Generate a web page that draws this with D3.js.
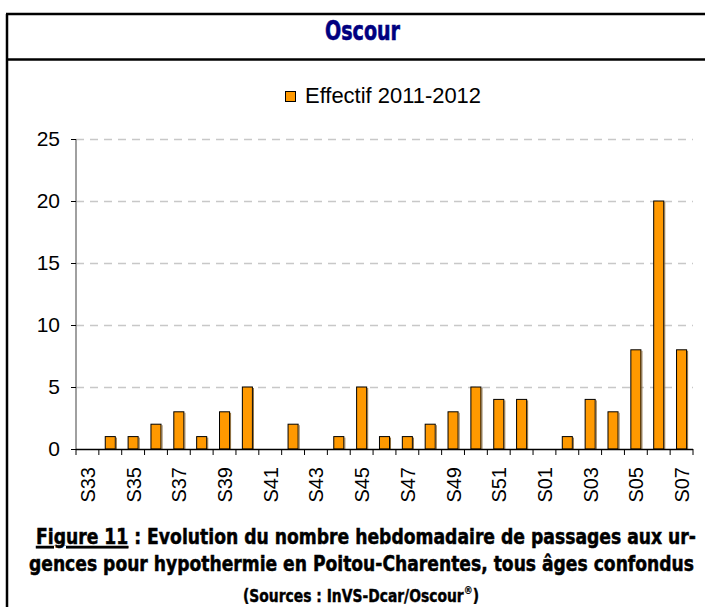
<!DOCTYPE html>
<html>
<head>
<meta charset="utf-8">
<script src="https://cdn.jsdelivr.net/npm/d3@7"></script>
<style>
  body { margin: 0; background: #fff; }
  .cond { font-family: "Liberation Sans Narrow", "DejaVu Sans Condensed", "DejaVu Sans", sans-serif; font-weight: bold; font-stretch: condensed; }
  .arial { font-family: "Liberation Sans", Arial, sans-serif; }
</style>
</head>
<body>
<div id="chart"></div>
<script>
// weeks S33 (2011) -> S07 (2012)
var weeks = ["S33","S34","S35","S36","S37","S38","S39","S40","S41","S42","S43","S44","S45","S46",
             "S47","S48","S49","S50","S51","S52","S01","S02","S03","S04","S05","S06","S07"];
var effectif = [0,1,1,2,3,1,3,5,0,2,0,1,5,1,1,2,3,5,4,4,0,1,4,3,8,20,8];
var shownLabels = ["S33","S35","S37","S39","S41","S43","S45","S47","S49","S51","S01","S03","S05","S07"];
var yTicks = [0,5,10,15,20,25];
var seriesName = "Effectif 2011-2012";

var W = 705, H = 607;
var svg = d3.select("#chart").append("svg")
  .attr("width", W).attr("height", H);

// frame (left + top + title separator)
svg.append("line").attr("x1",7).attr("x2",7).attr("y1",14).attr("y2",H)
  .attr("stroke","#000").attr("stroke-width",2.5);
svg.append("line").attr("x1",6).attr("x2",W).attr("y1",14).attr("y2",14)
  .attr("stroke","#000").attr("stroke-width",2.5);
svg.append("line").attr("x1",6).attr("x2",W).attr("y1",59.5).attr("y2",59.5)
  .attr("stroke","#000").attr("stroke-width",2.5);

svg.append("text").attr("class","cond")
  .attr("x",325).attr("y",40)
  .attr("textLength",75).attr("lengthAdjust","spacingAndGlyphs")
  .style("font-size","27px").attr("fill","#000080")
  .attr("stroke","#000080").attr("stroke-width",0.6)
  .text("Oscour");

// scales
var x = d3.scaleBand().domain(weeks).range([76,693]).paddingInner(0.56).paddingOuter(0.28);
var y = d3.scaleLinear().domain([0,25]).range([449,139]);

// legend
svg.append("rect").attr("x",285.5).attr("y",91.5).attr("width",10).attr("height",10)
  .attr("fill","#FF9900").attr("stroke","#000").attr("stroke-width",1);
svg.append("text").attr("class","arial")
  .attr("x",305).attr("y",103)
  .attr("textLength",176).attr("lengthAdjust","spacingAndGlyphs")
  .style("font-size","22px").attr("fill","#000")
  .text(seriesName);

// grid lines
svg.append("g").selectAll("line")
  .data(yTicks.filter(function(d){return d>0;}))
  .enter().append("line")
  .attr("x1",76).attr("x2",693)
  .attr("y1",function(d){return Math.round(y(d))+0.5;})
  .attr("y2",function(d){return Math.round(y(d))+0.5;})
  .attr("stroke","#c8c8c8").attr("stroke-width",1.3)
  .attr("stroke-dasharray","8,6");

// y axis
var yAxis = svg.append("g")
  .attr("transform","translate(76,0)")
  .call(d3.axisLeft(y).tickValues(yTicks).tickSize(5).tickPadding(11));
yAxis.select(".domain").attr("stroke","#808080").attr("stroke-width",1.5).attr("d","M0,139V449");
yAxis.selectAll(".tick line").attr("stroke","#000");
yAxis.selectAll("text").attr("class","arial").style("font-size","21px").attr("fill","#000").attr("font-family",null);

// bars
var bars = svg.append("g");
bars.selectAll("rect")
  .data(effectif)
  .enter().append("rect")
  .attr("x",function(d,i){return x(weeks[i]);})
  .attr("width",x.bandwidth())
  .attr("y",function(d){return y(d);})
  .attr("height",function(d){return y(0)-y(d);})
  .attr("fill","#FF9900")
  .attr("stroke","#000").attr("stroke-width",1);
// darker shading on right edge
bars.selectAll("line.sh")
  .data(effectif.map(function(d,i){return {v:d,w:weeks[i]};}).filter(function(d){return d.v>0;}))
  .enter().append("line").attr("class","sh")
  .attr("x1",function(d){return x(d.w)+x.bandwidth()+1;})
  .attr("x2",function(d){return x(d.w)+x.bandwidth()+1;})
  .attr("y1",function(d){return y(d.v)+1;})
  .attr("y2",y(0))
  .attr("stroke","#8a6a3a").attr("stroke-width",1);

// x axis: line + ticks at category boundaries
var xg = svg.append("g");
xg.append("line").attr("x1",76).attr("x2",693).attr("y1",449.5).attr("y2",449.5)
  .attr("stroke","#000").attr("stroke-width",1.5);
var bounds = weeks.map(function(w){return x(w)-x.step()*x.paddingInner()/2;});
bounds.push(693);
xg.selectAll("line.tk").data(bounds).enter().append("line").attr("class","tk")
  .attr("x1",function(d){return d;}).attr("x2",function(d){return d;})
  .attr("y1",449).attr("y2",455)
  .attr("stroke","#000").attr("stroke-width",1);
xg.selectAll("text").data(shownLabels).enter().append("text")
  .attr("class","arial")
  .attr("transform",function(d){return "translate("+(x(d)+x.bandwidth()/2+7.5)+",467) rotate(-90)";})
  .attr("text-anchor","end")
  .style("font-size","20px").attr("fill","#000")
  .text(function(d){return d;});

// caption
var c1 = svg.append("text").attr("class","cond")
  .attr("x",36).attr("y",544)
  .attr("textLength",660).attr("lengthAdjust","spacingAndGlyphs")
  .style("font-size","22px").attr("fill","#000")
  .attr("stroke","#000").attr("stroke-width",0.5);
c1.append("tspan").style("text-decoration","underline").text("Figure 11");
c1.append("tspan").text(" : Evolution du nombre hebdomadaire de passages aux ur-");

svg.append("text").attr("class","cond")
  .attr("x",29).attr("y",571)
  .attr("textLength",665).attr("lengthAdjust","spacingAndGlyphs")
  .style("font-size","22px").attr("fill","#000")
  .attr("stroke","#000").attr("stroke-width",0.5)
  .text("gences pour hypothermie  en Poitou-Charentes, tous âges confondus");

var c3 = svg.append("text").attr("class","cond")
  .attr("x",243).attr("y",602)
  .attr("textLength",236).attr("lengthAdjust","spacingAndGlyphs")
  .style("font-size","17px").attr("fill","#000")
  .attr("stroke","#000").attr("stroke-width",0.4);
c3.append("tspan").text("(Sources : InVS-Dcar/Oscour");
c3.append("tspan").attr("dy",-8).style("font-size","11px").attr("stroke-width",0.2).text("®");
c3.append("tspan").attr("dy",8).text(")");
</script>
</body>
</html>
